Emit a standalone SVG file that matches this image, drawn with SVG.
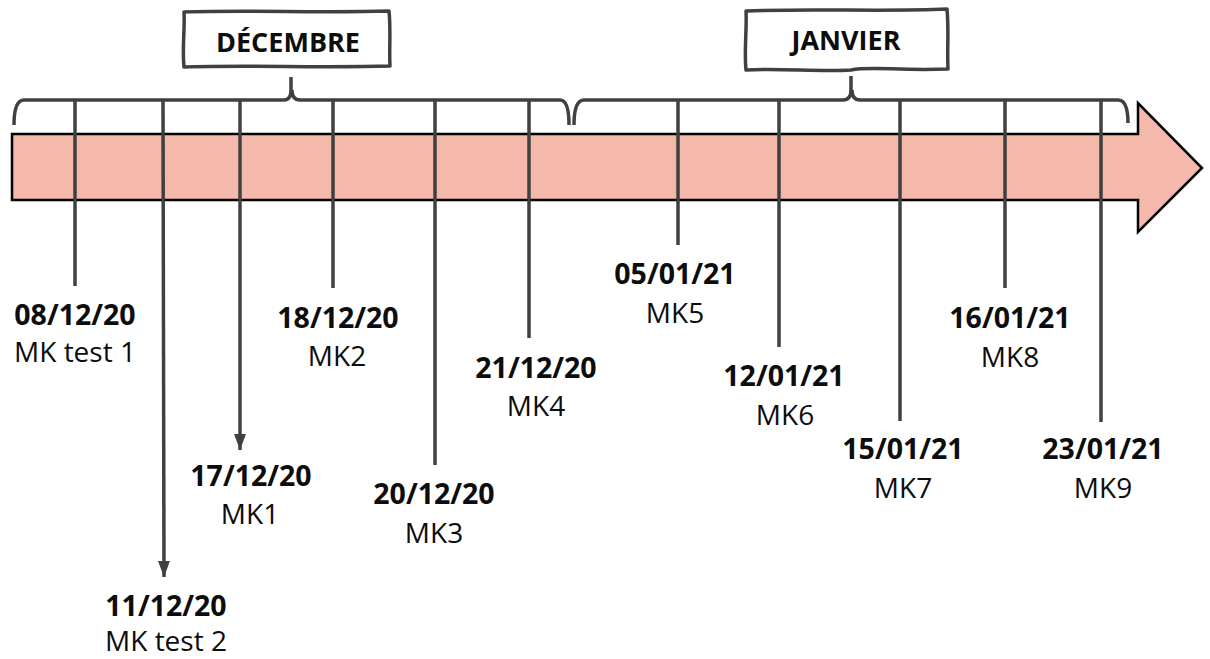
<svg xmlns="http://www.w3.org/2000/svg" width="1210" height="659" viewBox="0 0 1210 659">
  <style>
    .bg { fill: #ffffff; }
    .timeline { fill: #F5B9AC; stroke: #000000; stroke-width: 2.5; stroke-linejoin: miter; }
    .box { fill: #ffffff; stroke: #404040; stroke-width: 3.5; stroke-linejoin: round; }
    .brace { fill: none; stroke: #404040; stroke-width: 3.5; stroke-linecap: butt; stroke-linejoin: round; }
    .tick { fill: none; stroke: #404040; stroke-width: 3.5; }
    .month { font-family: "Open Sans", "Liberation Sans", sans-serif; font-weight: 700; font-size: 27px; fill: #0d0d0d; text-anchor: middle; }
    .date { font-family: "Open Sans", "Liberation Sans", sans-serif; font-weight: 700; font-size: 28.5px; fill: #0d0d0d; text-anchor: middle; }
    .name { font-family: "Open Sans", "Liberation Sans", sans-serif; font-weight: 400; font-size: 28px; fill: #0d0d0d; text-anchor: middle; }
  </style>
  <defs>
    <marker id="arrowhead" markerUnits="userSpaceOnUse" markerWidth="18" markerHeight="12" refX="16" refY="6" orient="auto">
      <path d="M0,0 L16,6 L0,12 Z" fill="#404040"/>
    </marker>
  </defs>
  <rect class="bg" x="0" y="0" width="1210" height="659"/>

  <g id="timeline-arrow">
    <path class="timeline" d="M12,134 L1138,134 L1138,103 L1202,168 L1138,232 L1138,200 L12,200 Z"/>
  </g>

  <g id="month-decembre">
    <path class="box" d="M184,12 C250,10 320,13 389,11 C391,30 389,50 390,66 C320,68 250,65 184,67 C182,48 185,30 184,12 Z"/>
    <text class="month" x="288" y="52">DÉCEMBRE</text>
  </g>
  <g id="month-janvier">
    <path class="box" d="M746,11 C810,8 880,12 947,9 C949,30 947,50 948,69 C900,71 870,66 851,70 C820,72 780,68 746,70 C744,50 747,30 746,11 Z"/>
    <text class="month" x="846" y="50">JANVIER</text>
  </g>

  <g id="connectors">
    <path class="brace" d="M14,125 Q14,100 24,100 H284 Q291,100 291,90 V77 M292,90 Q292,100 300,100 H560 Q569,100 569,125"/>
    <path class="brace" d="M574,125 Q574,100 584,100 H843 Q851,100 851,90 V76 M852,90 Q852,100 860,100 H1118 Q1128,100 1128,123"/>
    <line class="tick" x1="75" y1="100" x2="75" y2="286"/>
    <line class="tick" x1="163" y1="100" x2="164" y2="577" marker-end="url(#arrowhead)"/>
    <line class="tick" x1="240" y1="100" x2="240" y2="450" marker-end="url(#arrowhead)"/>
    <line class="tick" x1="333" y1="100" x2="333" y2="288"/>
    <line class="tick" x1="435" y1="100" x2="435" y2="465"/>
    <line class="tick" x1="529" y1="100" x2="529" y2="338"/>
    <line class="tick" x1="678" y1="100" x2="678" y2="245"/>
    <line class="tick" x1="779" y1="100" x2="779" y2="347"/>
    <line class="tick" x1="900" y1="100" x2="900" y2="421"/>
    <line class="tick" x1="1005" y1="100" x2="1005" y2="288"/>
    <line class="tick" x1="1101" y1="100" x2="1101" y2="422"/>
  </g>

  <g id="m-0812">
    <text class="date" x="75" y="325">08/12/20</text>
    <text class="name" x="75" y="362">MK test 1</text>
  </g>
  <g id="m-1112">
    <text class="date" x="166" y="616">11/12/20</text>
    <text class="name" x="166" y="651">MK test 2</text>
  </g>
  <g id="m-1712">
    <text class="date" x="251" y="486">17/12/20</text>
    <text class="name" x="250" y="524">MK1</text>
  </g>
  <g id="m-1812">
    <text class="date" x="338" y="328">18/12/20</text>
    <text class="name" x="337" y="366">MK2</text>
  </g>
  <g id="m-2012">
    <text class="date" x="434" y="504">20/12/20</text>
    <text class="name" x="434" y="543">MK3</text>
  </g>
  <g id="m-2112">
    <text class="date" x="536" y="378">21/12/20</text>
    <text class="name" x="536" y="416">MK4</text>
  </g>
  <g id="m-0501">
    <text class="date" x="675" y="284">05/01/21</text>
    <text class="name" x="675" y="323">MK5</text>
  </g>
  <g id="m-1201">
    <text class="date" x="784" y="386">12/01/21</text>
    <text class="name" x="785" y="425">MK6</text>
  </g>
  <g id="m-1501">
    <text class="date" x="903" y="459">15/01/21</text>
    <text class="name" x="903" y="498">MK7</text>
  </g>
  <g id="m-1601">
    <text class="date" x="1010" y="328">16/01/21</text>
    <text class="name" x="1010" y="367">MK8</text>
  </g>
  <g id="m-2301">
    <text class="date" x="1103" y="459">23/01/21</text>
    <text class="name" x="1103" y="498">MK9</text>
  </g>
</svg>
